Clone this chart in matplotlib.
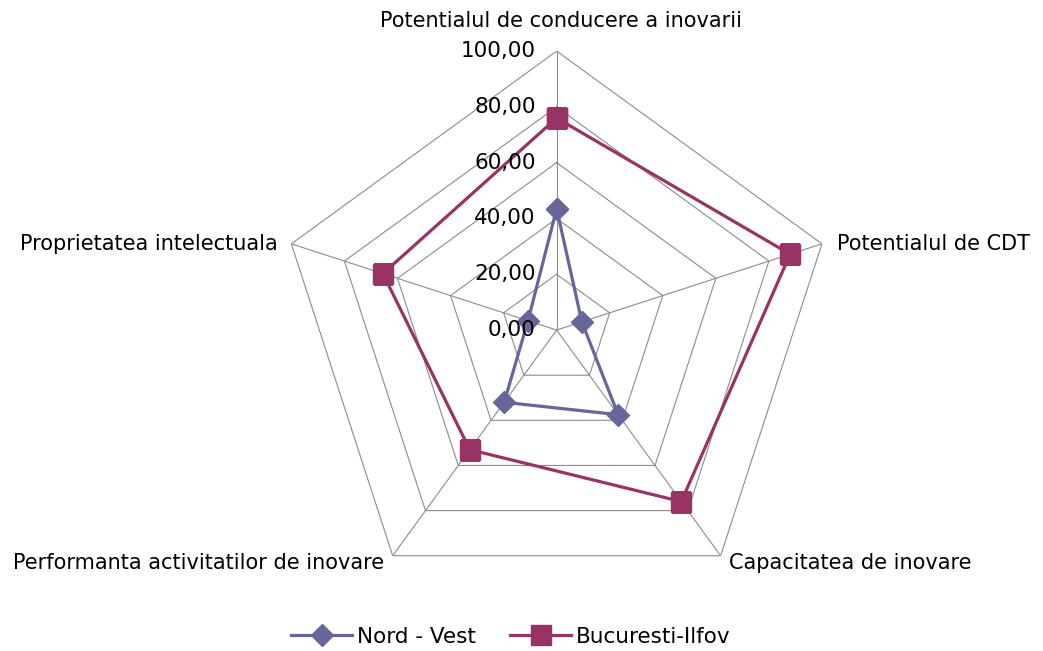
import numpy as np
import matplotlib
matplotlib.use("Agg")
import matplotlib.pyplot as plt
from matplotlib.lines import Line2D

plt.rcParams['font.family'] = ['DejaVu Sans']

# categories, clockwise from the top
categories = ["Potentialul de conducere a inovarii", "Potentialul de CDT",
              "Capacitatea de inovare", "Performanta activitatilor de inovare",
              "Proprietatea intelectuala"]
nord_vest = [43.5, 9.5, 37.5, 32.0, 10.8]
bucuresti = [76.0, 88.0, 76.0, 53.0, 65.5]
levels = [0, 20, 40, 60, 80, 100]
level_labels = ["0,00", "20,00", "40,00", "60,00", "80,00", "100,00"]

col_nv = "#666699"
col_bi = "#993366"
grid_col = "#8c8c8c"

n = len(categories)
angles = np.arange(n) * 2 * np.pi / n
closed = np.append(angles, angles[0])

fig = plt.figure(figsize=(10.43, 6.51), dpi=100)
ax = fig.add_axes([0.2662, 0.0645, 0.535, 0.857], projection="polar")
ax.set_theta_offset(np.pi / 2)
ax.set_theta_direction(-1)
ax.set_ylim(0, 100)
ax.grid(False)
ax.spines["polar"].set_visible(False)
ax.set_xticks([])
ax.set_yticks([])
ax.patch.set_alpha(0)

# pentagon grid
for lv in levels[1:]:
    ax.plot(closed, [lv] * (n + 1), color=grid_col, lw=0.8, zorder=1)
for a in angles:
    ax.plot([a, a], [0, 100], color=grid_col, lw=0.8, zorder=1)

# series
ax.plot(closed, nord_vest + nord_vest[:1], color=col_nv, lw=2.3,
        marker="D", markersize=11, zorder=3)
ax.plot(closed, bucuresti + bucuresti[:1], color=col_bi, lw=2.3,
        marker="s", markersize=15, zorder=4)

# radial level labels
for lv, lab in zip(levels, level_labels):
    ax.annotate(lab, xy=(0, lv), xytext=(-15, 0), textcoords="offset points",
                ha="right", va="center", fontsize=15.5, color="black", zorder=5)

# category labels
offsets = [(3, 22), (11, 0), (6, -5), (-6.5, -5), (-9.5, 0)]
has = ["center", "left", "left", "right", "right"]
for a, lab, off, ha in zip(angles, categories, offsets, has):
    ax.annotate(lab, xy=(a, 100), xytext=off, textcoords="offset points",
                ha=ha, va="center", fontsize=15, color="black")

handles = [Line2D([], [], color=col_nv, lw=2.3, marker="D", markersize=11),
           Line2D([], [], color=col_bi, lw=2.3, marker="s", markersize=15)]
fig.legend(handles, ["Nord - Vest", "Bucuresti-Ilfov"], loc="center",
           bbox_to_anchor=(0.49, 0.0215), ncol=2, frameon=False, fontsize=15.5,
           handlelength=2.8, columnspacing=1.6, handletextpad=0.25,
           borderpad=0, borderaxespad=0)

fig.savefig("out.png", dpi=100)
